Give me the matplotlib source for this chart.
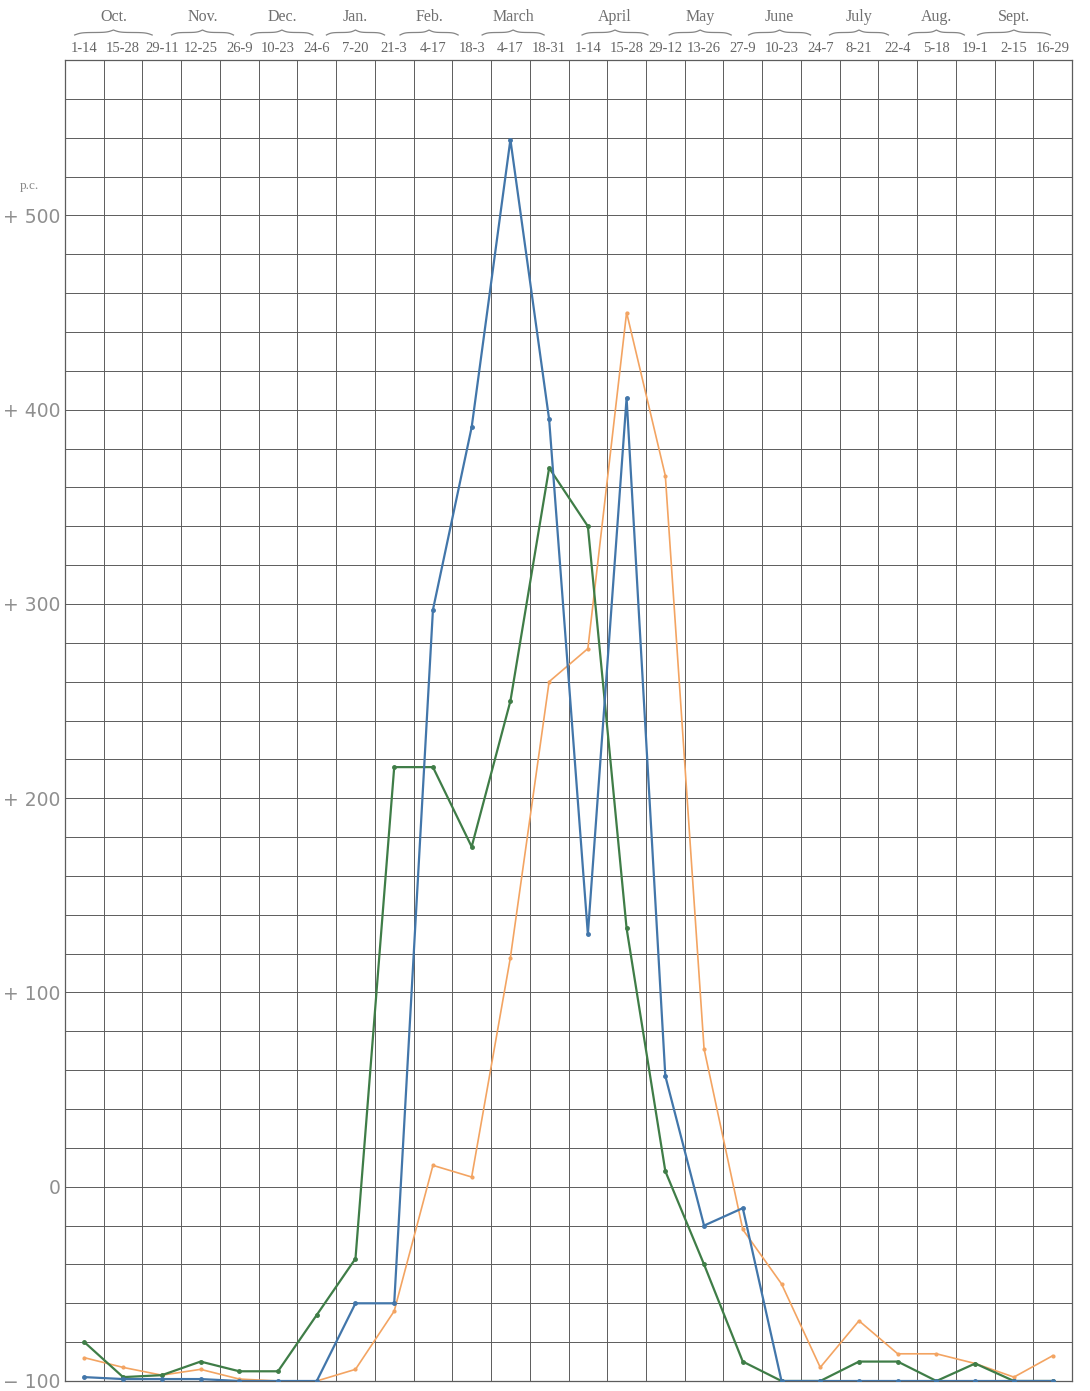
import numpy as np
import matplotlib
matplotlib.use("Agg")
import matplotlib.pyplot as plt
from matplotlib import transforms

# ---- data (per cent change, fortnightly periods Oct -> Sept) ----
periods = ["1-14", "15-28", "29-11", "12-25", "26-9", "10-23", "24-6",
           "7-20", "21-3", "4-17", "18-3", "4-17", "18-31", "1-14",
           "15-28", "29-12", "13-26", "27-9", "10-23", "24-7", "8-21",
           "22-4", "5-18", "19-1", "2-15", "16-29"]
months = ["Oct.", "Nov.", "Dec.", "Jan.", "Feb.", "March", "April",
          "May", "June", "July", "Aug.", "Sept."]

blue = [-98, -99, -99, -99, -100, -100, -100, -60, -60, 297, 391, 539,
        395, 130, 406, 57, -20, -11, -100, -100, -100, -100, -100, -100,
        -100, -100]
green = [-80, -98, -97, -90, -95, -95, -66, -37, 216, 216, 175, 250,
         370, 340, 133, 8, -40, -90, -100, -100, -90, -90, -100, -91,
         -100, -100]
orange = [-88, -93, -97, -94, -99, -100, -100, -94, -64, 11, 5, 118,
          260, 277, 450, 366, 71, -22, -50, -93, -69, -86, -86, -91,
          -98, -87]

y_ticks = [-100, 0, 100, 200, 300, 400, 500]
y_labels = ["\u2212 100", "0", "+ 100", "+ 200", "+ 300", "+ 400", "+ 500"]

# month label placement (in column units) and brace half-widths
month_pos = [1.25, 3.55, 5.6, 7.5, 9.4, 11.57, 14.2, 16.4, 18.45, 20.5, 22.5, 24.5]
brace_half = [1.0, 0.8, 0.8, 0.75, 0.75, 0.8, 0.85, 0.8, 0.8, 0.76, 0.72, 0.94]

GRID = "#5c5c5c"
SERIF = ["Liberation Serif", "DejaVu Serif"]

fig = plt.figure(figsize=(10.9, 13.91), dpi=100)
ax = fig.add_axes([65 / 1090, 10 / 1391, 1007 / 1090, 1321 / 1391])

x = np.arange(len(periods)) + 0.5
ax.plot(x, orange, color="#f3a462", lw=1.2, marker="o", ms=2, zorder=3)
ax.plot(x, green, color="#3f7d47", lw=1.6, marker="o", ms=2.5, zorder=4)
ax.plot(x, blue, color="#4276aa", lw=1.6, marker="o", ms=2.5, zorder=5)

ax.set_xlim(0, len(periods))
ax.set_ylim(-100, 580)

# grid: one column per fortnight, 20 p.c. per row
ax.set_xticks(np.arange(0, len(periods) + 1), minor=True)
ax.set_xticks([])
ax.set_yticks(np.arange(-100, 581, 20), minor=True)
ax.set_yticks(y_ticks)
ax.set_yticklabels(y_labels, fontsize=13.5, color="#8f8f8f",
                   family=["DejaVu Sans"])
ax.grid(which="both", color=GRID, lw=0.7)
ax.tick_params(which="both", length=0)
ax.tick_params(axis="y", pad=3)
for s in ax.spines.values():
    s.set_color(GRID)
    s.set_linewidth(0.9)

# header: period labels, braces and month names
trans = transforms.blended_transform_factory(ax.transData, ax.transAxes)
h = 1321.0
for xi, lab in zip(x, periods):
    ax.text(xi, 1 + 12 / h, lab, transform=trans, ha="center", va="center",
            fontsize=10.5, color="#666666", family=SERIF, clip_on=False)

for pos, half, name in zip(month_pos, brace_half, months):
    ax.text(pos, 1 + 43 / h, name, transform=trans, ha="center",
            va="center", fontsize=11.5, color="#707070", family=SERIF,
            clip_on=False)
    # flat curly brace over the month's fortnights
    t = np.linspace(0, 1, 60)
    bump = 1 / (1 + np.exp(-12 * t)) + 1 / (1 + np.exp(-12 * (t - 1)))
    bump = (bump - bump.min()) / (bump.max() - bump.min())
    bx = np.concatenate([pos - half + half * t, pos + half * t[1:]])
    by = np.concatenate([bump, bump[::-1][1:]])
    by = 1 + (25 + 5 * by) / h
    ax.plot(bx, by, transform=trans, color="#858585", lw=0.9, clip_on=False)

ax.text(-0.035, 512, "p.c.", transform=transforms.blended_transform_factory(
    ax.transAxes, ax.transData), ha="center", va="bottom", fontsize=9.5,
    color="#888888", family=SERIF)

fig.savefig("out.png", dpi=100)
